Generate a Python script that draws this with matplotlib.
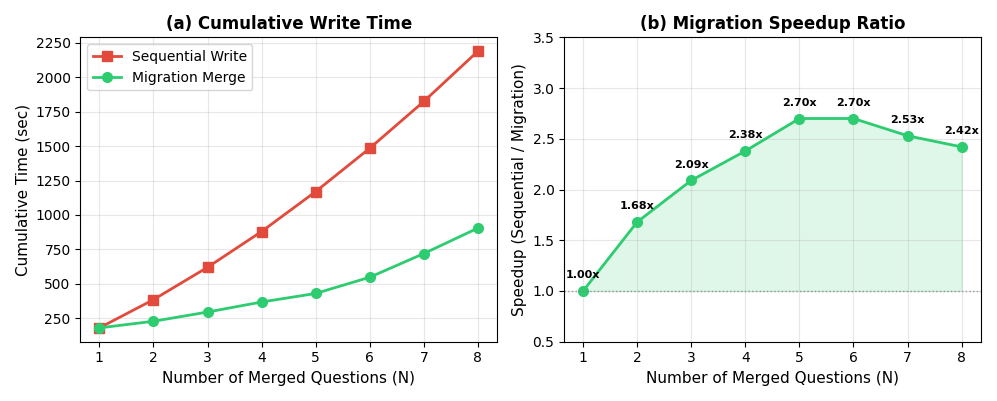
import matplotlib

matplotlib.use("Agg")
import matplotlib.pyplot as plt

n_merged = [1, 2, 3, 4, 5, 6, 7, 8]
sequential_time = [180, 385, 620, 880, 1170, 1485, 1825, 2190]
migration_time = [180, 228, 295, 368, 430, 548, 720, 905]
speedup = [1.00, 1.68, 2.09, 2.38, 2.70, 2.70, 2.53, 2.42]

RED = "#e24a3b"
GREEN = "#2ecc71"

fig, (ax1, ax2) = plt.subplots(1, 2, figsize=(9.97, 4.01), dpi=100)

ax1.plot(n_merged, sequential_time, color=RED, marker="s", markersize=7, linewidth=2, label="Sequential Write")
ax1.plot(n_merged, migration_time, color=GREEN, marker="o", markersize=7, linewidth=2, label="Migration Merge")
ax1.set_title("(a) Cumulative Write Time", fontsize=12, fontweight="bold")
ax1.set_xlabel("Number of Merged Questions (N)", fontsize=11)
ax1.set_ylabel("Cumulative Time (sec)", fontsize=11)
ax1.set_xticks(n_merged)
ax1.set_yticks(range(250, 2251, 250))
ax1.grid(alpha=0.3)
ax1.legend(fontsize=10, loc="upper left")

ax2.plot(n_merged, speedup, color=GREEN, marker="o", markersize=7, linewidth=2)
ax2.fill_between(n_merged, 1.0, speedup, color=GREEN, alpha=0.15)
ax2.axhline(1.0, color="gray", linestyle=":", linewidth=1, alpha=0.8)
for x, s in zip(n_merged, speedup):
    ax2.annotate(f"{s:.2f}x", (x, s), xytext=(0, 9), textcoords="offset points",
                 ha="center", fontsize=8, fontweight="bold")
ax2.set_title("(b) Migration Speedup Ratio", fontsize=12, fontweight="bold")
ax2.set_xlabel("Number of Merged Questions (N)", fontsize=11)
ax2.set_ylabel("Speedup (Sequential / Migration)", fontsize=11)
ax2.set_xticks(n_merged)
ax2.set_ylim(0.5, 3.5)
ax2.grid(alpha=0.3)

fig.tight_layout()
fig.savefig("out.png", dpi=100, facecolor="white")
